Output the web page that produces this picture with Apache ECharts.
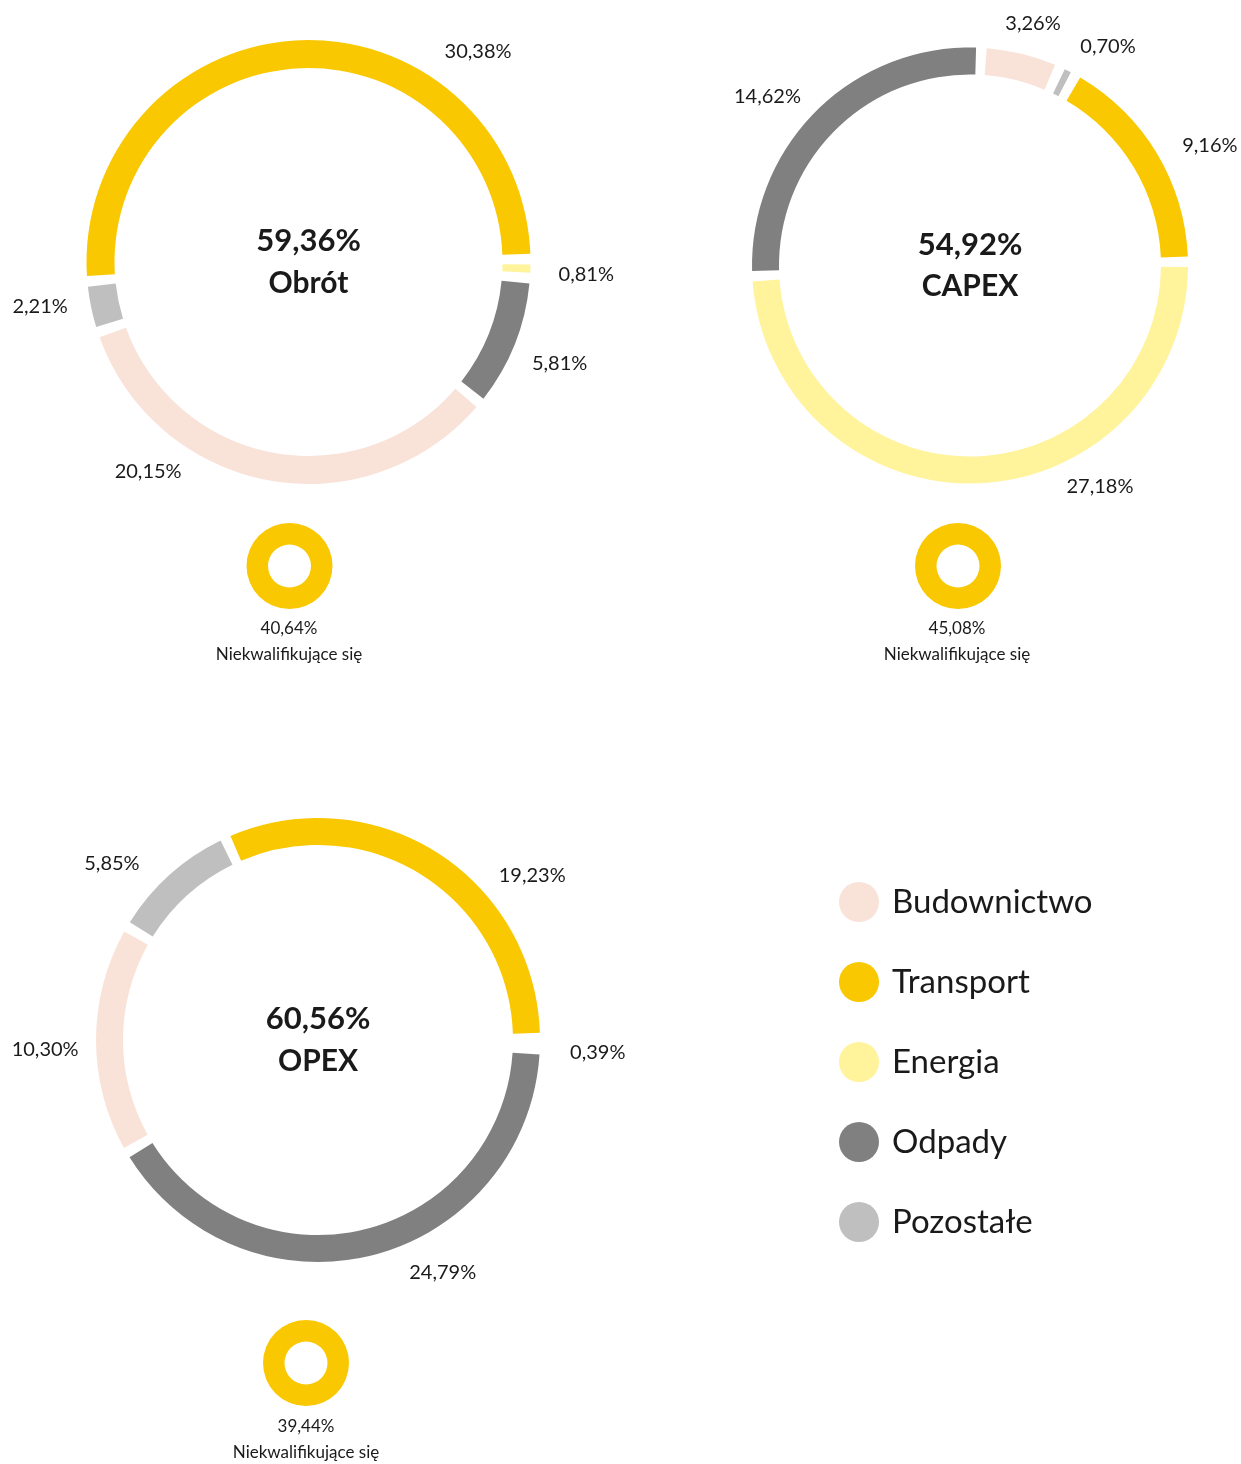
<!DOCTYPE html>
<html>
<head>
<meta charset="utf-8">
<script src="https://cdn.jsdelivr.net/npm/echarts@6/dist/echarts.min.js"></script>
<style>
  html, body { margin: 0; padding: 0; background: #fff; }
  #chart { width: 1241px; height: 1464px; }
</style>
</head>
<body>
<div id="chart"></div>
<script>
// kategorie (kolejność jak w legendzie)
const categories = ['Budownictwo', 'Transport', 'Energia', 'Odpady', 'Pozostałe']
// kolejność segmentów w pierścieniu, zgodnie z ruchem wskazówek zegara
const ringOrder = ['Budownictwo', 'Pozostałe', 'Transport', 'Energia', 'Odpady']

// udziały kwalifikujące się [%], w kolejności categories
const obrotValues = [20.15, 30.38, 0.81, 5.81, 2.21]
const capexValues = [3.26, 9.16, 27.18, 14.62, 0.70]
const opexValues = [10.30, 19.23, 0.39, 24.79, 5.85]

// udziały niekwalifikujące się [%]
const nonAligned = [40.64, 45.08, 39.44]

const chartNames = ['Obrót', 'CAPEX', 'OPEX']
const nonAlignedName = 'Niekwalifikujące się'

const colors = {
  'Budownictwo': '#F9E3D9',
  'Transport': '#F9C800',
  'Energia': '#FFF39B',
  'Odpady': '#808080',
  'Pozostałe': '#BFBFBF'
}

const FONT = 'Lato, "Noto Sans", sans-serif'
const TEXT = '#1a1a1a'

// układ każdego wykresu; etykiety: [kąt, odległość od środka]
const layouts = [
  {
    values: obrotValues, center: [308.5, 262], radius: [194, 222], startAngle: -39.4,
    small: [289.5, 566], smallText: [289, 629],
    labels: { 'Budownictwo': [232.6, 264], 'Pozostałe': [189.4, 272], 'Transport': [51.1, 270], 'Energia': [-2.5, 278], 'Odpady': [-22.1, 271] }
  },
  {
    values: capexValues, center: [970, 265.5], radius: [191, 218], startAngle: 87,
    small: [958, 566], smallText: [957, 629],
    labels: { 'Budownictwo': [75.4, 250], 'Pozostałe': [57.8, 259], 'Transport': [26.5, 268], 'Energia': [-59.5, 256], 'Odpady': [140.1, 264] }
  },
  {
    values: opexValues, center: [318, 1040], radius: [195, 222], startAngle: 210.5,
    small: [306, 1363], smallText: [306, 1427],
    labels: { 'Budownictwo': [181.9, 273], 'Pozostałe': [139.5, 271], 'Transport': [37.5, 270], 'Energia': [-2.5, 280], 'Odpady': [-61.8, 264] }
  }
]

// format liczby z przecinkiem dziesiętnym
const fmt = v => v.toFixed(2).replace('.', ',')

const series = []
const graphic = []

layouts.forEach((l, i) => {
  const data = ringOrder.map(name => ({
    name,
    value: l.values[categories.indexOf(name)],
    itemStyle: { color: colors[name] }
  }))
  const total = l.values.reduce((a, b) => a + b, 0)

  series.push({
    type: 'pie',
    silent: true,
    center: l.center,
    radius: l.radius,
    startAngle: l.startAngle,
    clockwise: true,
    padAngle: 2.8,
    avoidLabelOverlap: false,
    label: {
      show: true,
      position: 'outside',
      formatter: p => fmt(p.value) + '%',
      fontFamily: FONT,
      fontSize: 20,
      color: TEXT
    },
    labelLine: { show: false },
    labelLayout: function (params) {
      const pos = l.labels[ringOrder[params.dataIndex]]
      const a = pos[0] * Math.PI / 180
      return {
        x: l.center[0] + pos[1] * Math.cos(a),
        y: l.center[1] - pos[1] * Math.sin(a),
        align: 'center',
        verticalAlign: 'middle'
      }
    },
    data
  })

  // mały pierścień - niekwalifikujące się
  series.push({
    type: 'pie',
    silent: true,
    center: l.small,
    radius: [21.5, 43],
    label: { show: false },
    labelLine: { show: false },
    data: [{ name: nonAlignedName, value: nonAligned[i], itemStyle: { color: colors['Transport'] } }]
  })

  // środek dużego pierścienia
  graphic.push({
    type: 'text',
    x: l.center[0], y: l.center[1] - 21,
    style: { text: fmt(total) + '%', fill: TEXT, font: 'bold 31px ' + FONT, textAlign: 'center', textVerticalAlign: 'middle' }
  })
  graphic.push({
    type: 'text',
    x: l.center[0], y: l.center[1] + 21,
    style: { text: chartNames[i], fill: TEXT, font: 'bold 30px ' + FONT, textAlign: 'center', textVerticalAlign: 'middle' }
  })

  // podpis pod małym pierścieniem
  graphic.push({
    type: 'text',
    x: l.smallText[0], y: l.smallText[1],
    style: { text: fmt(nonAligned[i]) + '%', fill: TEXT, font: '17px ' + FONT, textAlign: 'center', textVerticalAlign: 'middle' }
  })
  graphic.push({
    type: 'text',
    x: l.smallText[0], y: l.smallText[1] + 26,
    style: { text: nonAlignedName, fill: TEXT, font: '17px ' + FONT, textAlign: 'center', textVerticalAlign: 'middle' }
  })
})

const chart = echarts.init(document.getElementById('chart'))

const option = {
  backgroundColor: '#fff',
  animation: false,
  legend: {
    data: categories,
    orient: 'vertical',
    left: 839,
    top: 882,
    padding: 0,
    icon: 'circle',
    itemWidth: 40,
    itemHeight: 40,
    itemGap: 40,
    selectedMode: false,
    textStyle: {
      fontFamily: FONT,
      fontSize: 33,
      color: TEXT,
      lineHeight: 40,
      padding: [0, 0, 0, 8]
    }
  },
  graphic,
  series
}

chart.setOption(option)
</script>
</body>
</html>
